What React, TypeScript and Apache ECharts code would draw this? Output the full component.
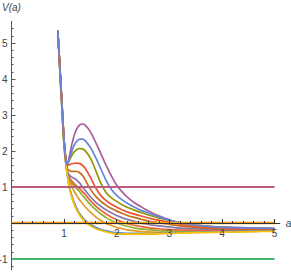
import React, { useEffect, useRef } from "react";
import * as echarts from "echarts";

// scale factor a (shared sample points for every curve)
const aValues = [0.88, 0.92, 0.96, 1.0, 1.03, 1.06, 1.1, 1.15, 1.2, 1.25, 1.3, 1.35, 1.4, 1.5, 1.6, 1.7, 1.8, 1.9, 2.0, 2.1, 2.2, 2.35, 2.5, 2.65, 2.8, 3.0, 3.2, 3.5, 3.8, 4.2, 4.6, 5.0];

// V(a), one array per curve
const vBlue = [5.34, 4.22, 3.15, 2.15, 1.7, 1.36, 1.0, 0.74, 0.53, 0.37, 0.25, 0.15, 0.07, -0.04, -0.12, -0.18, -0.22, -0.25, -0.27, -0.28, -0.29, -0.29, -0.29, -0.29, -0.28, -0.27, -0.26, -0.25, -0.24, -0.23, -0.22, -0.21];
const vOrange = [5.34, 4.28, 3.22, 2.22, 1.76, 1.4, 1.18, 1.0, 0.86, 0.74, 0.63, 0.54, 0.45, 0.3, 0.17, 0.07, -0.01, -0.07, -0.12, -0.16, -0.19, -0.22, -0.24, -0.25, -0.26, -0.26, -0.26, -0.25, -0.24, -0.23, -0.22, -0.21];
const vGreen = [5.34, 4.28, 3.22, 2.22, 1.76, 1.4, 1.22, 1.1, 1.02, 0.94, 0.86, 0.77, 0.68, 0.51, 0.37, 0.25, 0.15, 0.07, 0.0, -0.05, -0.09, -0.14, -0.17, -0.19, -0.21, -0.22, -0.23, -0.23, -0.23, -0.22, -0.22, -0.21];
const vRed = [5.34, 4.28, 3.22, 2.22, 1.76, 1.42, 1.27, 1.16, 1.08, 1.02, 0.95, 0.87, 0.79, 0.62, 0.47, 0.35, 0.25, 0.16, 0.09, 0.03, -0.02, -0.07, -0.11, -0.14, -0.16, -0.18, -0.19, -0.2, -0.21, -0.21, -0.21, -0.2];
const vLavender = [5.34, 4.32, 3.28, 2.28, 1.8, 1.45, 1.33, 1.27, 1.235, 1.18, 1.1, 1.0, 0.91, 0.73, 0.58, 0.46, 0.36, 0.28, 0.21, 0.15, 0.1, 0.04, -0.01, -0.05, -0.08, -0.11, -0.14, -0.16, -0.18, -0.19, -0.19, -0.19];
const vBrown = [5.34, 4.32, 3.28, 2.28, 1.8, 1.52, 1.46, 1.43, 1.435, 1.43, 1.39, 1.32, 1.2, 0.94, 0.74, 0.6, 0.49, 0.4, 0.33, 0.27, 0.21, 0.15, 0.09, 0.04, 0.01, -0.04, -0.08, -0.12, -0.15, -0.17, -0.18, -0.18];
const vLightBlue = [5.34, 4.22, 3.15, 2.15, 1.7, 1.35, 0.99, 0.72, 0.51, 0.35, 0.23, 0.13, 0.05, -0.06, -0.14, -0.19, -0.23, -0.26, -0.28, -0.29, -0.3, -0.3, -0.3, -0.3, -0.29, -0.28, -0.27, -0.26, -0.25, -0.24, -0.23, -0.22];
const vYellow = [5.34, 4.2, 3.12, 2.12, 1.68, 1.34, 0.97, 0.7, 0.48, 0.33, 0.21, 0.11, 0.03, -0.08, -0.16, -0.21, -0.25, -0.28, -0.3, -0.31, -0.31, -0.31, -0.31, -0.31, -0.3, -0.29, -0.28, -0.27, -0.26, -0.25, -0.24, -0.23];
const vPurple = [5.34, 4.32, 3.28, 2.28, 1.8, 1.64, 1.85, 2.2, 2.47, 2.64, 2.73, 2.75, 2.72, 2.53, 2.24, 1.92, 1.6, 1.3, 1.05, 0.87, 0.72, 0.55, 0.42, 0.3, 0.2, 0.09, 0.01, -0.06, -0.1, -0.12, -0.14, -0.15];
const vOlive = [5.34, 4.32, 3.28, 2.28, 1.8, 1.62, 1.74, 1.89, 1.99, 2.05, 2.07, 2.06, 2.01, 1.8, 1.46, 1.1, 0.84, 0.7, 0.6, 0.51, 0.44, 0.35, 0.27, 0.2, 0.14, 0.07, 0.01, -0.06, -0.1, -0.13, -0.15, -0.16];
const vRed2 = [5.34, 4.32, 3.28, 2.28, 1.8, 1.6, 1.62, 1.645, 1.66, 1.665, 1.65, 1.6, 1.52, 1.27, 0.98, 0.76, 0.62, 0.52, 0.44, 0.37, 0.31, 0.24, 0.18, 0.12, 0.08, 0.02, -0.03, -0.09, -0.13, -0.15, -0.16, -0.17];
const vBlue2 = [5.34, 4.32, 3.28, 2.28, 1.8, 1.63, 1.78, 2.01, 2.18, 2.28, 2.33, 2.33, 2.29, 2.1, 1.82, 1.5, 1.18, 0.93, 0.77, 0.65, 0.55, 0.43, 0.33, 0.25, 0.17, 0.08, 0.01, -0.06, -0.1, -0.13, -0.14, -0.15];

// horizontal reference levels
const levelValues = [0, 1, -1];
const levelRange = [0, 5];

// ticks and labels
const xLabels = [1, 2, 3, 4, 5];
const xMinorTicks = [0.2, 0.4, 0.6, 0.8, 1.2, 1.4, 1.6, 1.8, 2.2, 2.4, 2.6, 2.8, 3.2, 3.4, 3.6, 3.8, 4.2, 4.4, 4.6, 4.8];
const yLabels = [-1, 1, 2, 3, 4, 5];
const yMinorTicks = [-1.2, -0.8, -0.6, -0.4, -0.2, 0.2, 0.4, 0.6, 0.8, 1.2, 1.4, 1.6, 1.8, 2.2, 2.4, 2.6, 2.8, 3.2, 3.4, 3.6, 3.8, 4.2, 4.4, 4.6, 4.8, 5.2, 5.4];

const curves = [
  { values: vBlue, color: "#5E81B5" },
  { values: vOrange, color: "#E19C24" },
  { values: vGreen, color: "#8FB032" },
  { values: vRed, color: "#EB6235" },
  { values: vLavender, color: "#8778B3" },
  { values: vBrown, color: "#C56E1A" },
  { values: vLightBlue, color: "#5D9EC7" },
  { values: vYellow, color: "#FFBF00" },
  { values: vPurple, color: "#A5609D" },
  { values: vOlive, color: "#929600" },
  { values: vRed2, color: "#E95536" },
  { values: vBlue2, color: "#6685D9" },
];
const levelColors = ["#F89F13", "#BC5B80", "#47B66D"];

const FONT = "Liberation Sans, Arial, sans-serif";
const AXIS = "#555";
const TEXT = "#444";

const Y_MIN = -1.3;
const Y_MAX = 5.6;
const GRID_TOP = 21.4;
const GRID_BOTTOM = 3.2;
const PLOT_H = 273 - GRID_TOP - GRID_BOTTOM;
// move the x axis up from the grid bottom to y = 0
const X_OFFSET = -((0 - Y_MIN) / (Y_MAX - Y_MIN)) * PLOT_H;

export default function App() {
  const ref = useRef<HTMLDivElement>(null);
  useEffect(() => {
    const chart = echarts.init(ref.current as HTMLDivElement, null, { renderer: "svg" });
    const series: any[] = curves.map((c) => ({
      type: "line",
      data: aValues.map((a, i) => [a, c.values[i]]),
      showSymbol: false,
      smooth: 0.35,
      lineStyle: { color: c.color, width: 1.7 },
      z: 2,
    }));
    levelValues.forEach((v, i) => {
      series.push({
        type: "line",
        data: levelRange.map((a) => [a, v]),
        showSymbol: false,
        lineStyle: { color: levelColors[i], width: i === 0 ? 2.6 : 2 },
        z: 3,
      });
    });
    chart.setOption({
      animation: false,
      backgroundColor: "#fff",
      grid: {
        left: 11.5,
        right: 11.2,
        top: GRID_TOP,
        bottom: GRID_BOTTOM,
        containLabel: false,
        outerBoundsMode: "none",
      },
      xAxis: [
        {
          type: "value",
          min: 0,
          max: 5.1,
          position: "bottom",
          offset: X_OFFSET,
          z: 4,
          axisLine: { show: true, onZero: false, lineStyle: { color: "#333", width: 1 } },
          axisTick: { show: true, inside: true, length: 4, customValues: xLabels, lineStyle: { color: "#333" } },
          axisLabel: { customValues: xLabels, fontSize: 10, color: TEXT, margin: 5, fontFamily: FONT },
          splitLine: { show: false },
          name: "a",
          nameLocation: "end",
          nameGap: 6,
          nameTextStyle: { fontSize: 10, fontStyle: "italic", color: TEXT, fontFamily: FONT },
        },
        {
          type: "value",
          min: 0,
          max: 5.1,
          position: "bottom",
          offset: X_OFFSET,
          z: 4,
          axisLine: { show: false, onZero: false },
          axisTick: { show: true, inside: true, length: 2, customValues: xMinorTicks, lineStyle: { color: "#333" } },
          axisLabel: { show: false },
          splitLine: { show: false },
        },
      ],
      yAxis: [
        {
          type: "value",
          min: Y_MIN,
          max: Y_MAX,
          position: "left",
          axisLine: { show: true, onZero: false, lineStyle: { color: AXIS, width: 1 } },
          axisTick: { show: true, inside: true, length: 4, customValues: yLabels, lineStyle: { color: AXIS } },
          axisLabel: { customValues: yLabels, fontSize: 10, color: TEXT, margin: 4, fontFamily: FONT },
          splitLine: { show: false },
          name: "V(a)",
          nameLocation: "end",
          nameGap: 9,
          nameTextStyle: { fontSize: 10, fontStyle: "italic", color: TEXT, fontFamily: FONT },
        },
        {
          type: "value",
          min: Y_MIN,
          max: Y_MAX,
          position: "left",
          axisLine: { show: false, onZero: false },
          axisTick: { show: true, inside: true, length: 2, customValues: yMinorTicks, lineStyle: { color: AXIS } },
          axisLabel: { show: false },
          splitLine: { show: false },
        },
      ],
      series,
    });
    return () => chart.dispose();
  }, []);
  return (
    <div
      ref={ref}
      style={{ position: "fixed", left: 0, top: 0, width: 291, height: 273, background: "#fff" }}
    />
  );
}
